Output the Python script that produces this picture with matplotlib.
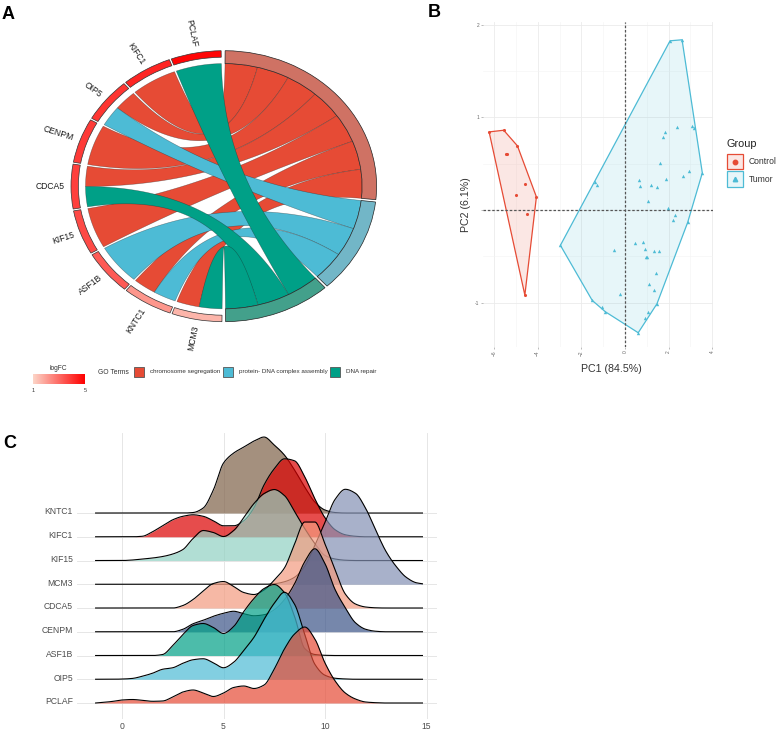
import numpy as np
import matplotlib
matplotlib.use('Agg')
import matplotlib.pyplot as plt
from matplotlib.patches import Wedge, Rectangle, Polygon
from matplotlib.colors import LinearSegmentedColormap, to_rgba

plt.rcParams['font.family'] = ['Liberation Sans', 'DejaVu Sans']

W, H = 778, 730

# ---------------- Panel A data (GO chord) ----------------
genes = ['PCLAF', 'KIFC1', 'OIP5', 'CENPM', 'CDCA5', 'KIF15', 'ASF1B', 'KNTC1', 'MCM3']
gene_logfc = [4.9, 4.3, 4.0, 3.9, 3.8, 3.6, 3.3, 2.2, 1.6]
go_terms = ['chromosome segregation', 'protein- DNA complex assembly', 'DNA repair']
chrom_seg_genes = ['KIFC1', 'OIP5', 'CENPM', 'CDCA5', 'KIF15', 'KNTC1', 'MCM3']
prot_dna_genes = ['OIP5', 'ASF1B', 'KNTC1']
dna_repair_genes = ['PCLAF', 'CDCA5', 'MCM3']
term_gene_lists = [chrom_seg_genes, prot_dna_genes, dna_repair_genes]
term_colors = ['#E64B35', '#4DBBD5', '#00A087']
term_ring_colors = ['#CF7264', '#72B6C7', '#43A08B']

# ---------------- Panel B data (PCA) ----------------
ctrl_pc1 = [-6.23, -5.56, -4.93, -5.47, -5.41, -4.58, -5.01, -4.06, -4.49, -4.59]
ctrl_pc2 = [0.843, 0.861, 0.692, 0.609, 0.602, 0.281, 0.162, 0.141, -0.040, -0.919]
tum_pc1 = [2.07, 2.62, 2.40, 3.06, 3.17, 1.85, 1.73, 1.61, 2.96, 3.55, 2.68, 1.88, 0.66,
           0.69, 1.19, 1.45, -1.39, -1.29, 1.04, 1.98, 2.30, 2.19, 2.88, -2.96, 0.47,
           0.84, -0.52, 0.92, 1.35, 1.56, 0.95, 1.00, 1.44, 1.10, 1.35, -0.21, -1.50,
           -1.06, -0.90, 1.47, 1.06, 0.92, 0.61]
tum_pc2 = [1.827, 1.838, 0.897, 0.905, 0.890, 0.840, 0.789, 0.505, 0.418, 0.400, 0.364,
           0.339, 0.328, 0.259, 0.274, 0.252, 0.306, 0.270, 0.101, 0.025, -0.058, -0.112,
           -0.133, -0.382, -0.360, -0.346, -0.432, -0.425, -0.443, -0.443, -0.508, -0.508,
           -0.677, -0.800, -0.861, -0.904, -0.977, -1.045, -1.099, -1.013, -1.099, -1.168,
           -1.326]

# ---------------- Panel C data (ridgeline density heights) ----------------
ridge_x = [-1.3, -1.0, -0.5, 0.0, 0.5, 1.0, 1.5, 2.0, 2.5, 3.0, 3.5, 4.0, 4.5, 5.0, 5.5,
           6.0, 6.5, 7.0, 7.5, 8.0, 8.5, 9.0, 9.5, 10.0, 10.5, 11.0, 11.5, 12.0, 12.5,
           13.0, 13.5, 14.0, 14.5, 14.8]
ridge_genes = ['PCLAF', 'OIP5', 'ASF1B', 'CENPM', 'CDCA5', 'MCM3', 'KIF15', 'KIFC1', 'KNTC1']
ridge_colors = ['#E64B35', '#4DBBD5', '#00A087', '#3C5488', '#F39B7F', '#8491B4',
                '#91D1C2', '#DC0000', '#7E6148']
d_PCLAF = [0, 0.5, 1.5, 3, 3.5, 2.7, 1.7, 2, 6, 11, 13, 10, 6.5, 10, 15.5, 17, 14.5, 18,
           34, 54, 69, 76, 64, 40, 22, 10, 4, 1, 0.3, 0, 0, 0, 0, 0]
d_OIP5 = [0, 0, 0, 0.2, 0.8, 3, 6, 10, 11.5, 16, 19.5, 20.5, 16.5, 11.5, 17, 29, 42, 60,
          76, 87, 75, 45, 15, 4, 1, 0.3, 0, 0, 0, 0, 0, 0, 0, 0]
d_ASF1B = [0, 0, 0, 0, 0, 0, 0, 1, 10, 21, 30, 32, 28, 22, 29, 44, 57, 67, 71, 63, 39, 7,
           1, 0.2, 0, 0, 0, 0, 0, 0, 0, 0, 0, 0]
d_CENPM = [0, 0, 0, 0, 0, 0, 0, 0, 0, 2.5, 8, 11.5, 15.5, 18.5, 20.5, 18, 16, 17, 22, 32,
           48, 70, 83, 68, 42, 24, 9, 2.5, 0.5, 0, 0, 0, 0, 0]
d_CDCA5 = [0, 0, 0, 0, 0, 0, 0, 0, 0, 2.5, 8.5, 17, 24.5, 26.5, 21.5, 15.5, 13.5, 18, 28,
           40, 64, 86, 86, 64, 38, 14, 4, 1, 0.2, 0, 0, 0, 0, 0]
d_MCM3 = [0, 0, 0, 0, 0, 0, 0, 0, 0, 0, 0, 0, 0, 0, 0, 0, 0, 0, 0.5, 2.5, 7, 18, 39, 62,
          85, 95, 91, 76, 54, 33, 18, 7, 1.5, 0.5]
d_KIF15 = [0, 0, 0, 0, 0.5, 1.5, 2.5, 4, 6.5, 11, 22, 30, 28, 24, 30, 43, 57, 67, 71, 65,
           49, 32, 17, 5, 1.5, 0.3, 0, 0, 0, 0, 0, 0, 0, 0]
d_KIFC1 = [0, 0, 0, 0, 0, 0.5, 5, 11, 17, 20.5, 22, 20.5, 16, 11, 11, 16, 29, 52, 68, 78,
           76, 60, 38, 19, 7, 2, 0.5, 0, 0, 0, 0, 0, 0, 0]
d_KNTC1 = [0, 0, 0, 0, 0, 0, 0, 0, 0, 0, 0.5, 5, 23, 50, 60, 66, 72, 76, 68, 58, 43, 26,
           11, 3, 0.5, 0, 0, 0, 0, 0, 0, 0, 0, 0]
ridge_heights = [d_PCLAF, d_OIP5, d_ASF1B, d_CENPM, d_CDCA5, d_MCM3, d_KIF15, d_KIFC1, d_KNTC1]

# =========================================================
fig = plt.figure(figsize=(W / 100, H / 100), dpi=100)


def fx(px):
    return px / W


def fy(py):
    return 1 - py / H


ov = fig.add_axes([0, 0, 1, 1], zorder=10)
ov.set_xlim(0, W)
ov.set_ylim(H, 0)
ov.axis('off')

# ---------------- Panel A ----------------
cx, cy, rx, ry = 223.8, 186.2, 152.8, 135.5
axA = fig.add_axes([fx(cx - 1.1 * rx), fy(cy + 1.1 * ry), 2.2 * rx / W, 2.2 * ry / H])
axA.set_xlim(-1.1, 1.1)
axA.set_ylim(-1.1, 1.1)
axA.axis('off')

lfc_cmap = LinearSegmentedColormap.from_list('lfc', ['#FCD5C8', '#FF0000'])


def lfc_color(v):
    return lfc_cmap((v - 1) / 4.0)


def pol(r, a):
    t = np.radians(a)
    return np.array([r * np.cos(t), r * np.sin(t)])


def arc(r, a0, a1, n=60):
    t = np.radians(np.linspace(a0, a1, n))
    return np.c_[r * np.cos(t), r * np.sin(t)]


def bez(p0, p2, n=60):
    t = np.linspace(0, 1, n)[:, None]
    c = np.zeros(2)
    return (1 - t) ** 2 * p0 + 2 * (1 - t) * t * c + t ** 2 * p2


g_start, g_pitch, g_width = 91.0, 19.9, 19.1
t_start, t_unit, t_gap = 89.5, 13.6, 1.0
rc = 0.905

gene_seg = {}
for i, g in enumerate(genes):
    g0 = g_start + i * g_pitch
    gene_seg[g] = (g0, g0 + g_width)

term_seg = []
a = t_start
for j, lst in enumerate(term_gene_lists):
    t0 = a
    t1 = a - len(lst) * t_unit
    term_seg.append((t0, t1))
    a = t1 - t_gap

# chords
for j, lst in enumerate(term_gene_lists):
    for m, g in enumerate(lst):
        links = [k for k in range(3) if g in term_gene_lists[k]]
        g0, g1 = gene_seg[g]
        sw = (g1 - g0) / len(links)
        k = links.index(j)
        ga0, ga1 = g0 + k * sw, g0 + (k + 1) * sw
        ta0 = term_seg[j][0] - m * t_unit
        ta1 = ta0 - t_unit
        A = arc(rc, ga0, ga1)
        B = bez(A[-1], pol(rc, ta1))
        C = arc(rc, ta1, ta0)
        D = bez(C[-1], A[0])
        verts = np.vstack([A, B[1:], C[1:], D[1:]])
        axA.add_patch(Polygon(verts, closed=True, facecolor=term_colors[j],
                              edgecolor=(0.1, 0.1, 0.1, 0.45), lw=0.4, zorder=1))

# term ring
for j in range(3):
    t0, t1 = term_seg[j]
    axA.add_patch(Wedge((0, 0), 1.0, t1, t0, width=0.095, facecolor=term_ring_colors[j],
                        edgecolor='#222222', lw=0.5, zorder=3))

# gene ring + labels
for i, g in enumerate(genes):
    g0, g1 = gene_seg[g]
    axA.add_patch(Wedge((0, 0), 1.0, g0, g1, width=0.048, facecolor=lfc_color(gene_logfc[i]),
                        edgecolor='#333333', lw=0.5, zorder=3))
    mid = np.radians((g0 + g1) / 2)
    phi = np.degrees(np.arctan2(ry * np.sin(mid), rx * np.cos(mid)))
    axA.text(1.045 * np.cos(mid), 1.045 * np.sin(mid), g, rotation=phi - 180,
             rotation_mode='anchor', ha='right', va='center', fontsize=6.2,
             color='#1a1a1a', clip_on=False)

# legend A
grad = np.linspace(0, 1, 256)[None, :]
ov.imshow(grad, extent=(33, 85, 384, 374), aspect='auto', cmap=lfc_cmap, zorder=1)
ov.set_xlim(0, W)
ov.set_ylim(H, 0)
ov.text(58, 368, 'logFC', fontsize=4.8, ha='center', va='center', color='#333333')
ov.text(33, 391, '1', fontsize=4, ha='center', va='center', color='#333333')
ov.text(85, 391, '5', fontsize=4, ha='center', va='center', color='#333333')
ov.text(98, 372, 'GO Terms', fontsize=4.9, ha='left', va='center', color='#333333')
sq_x = [134.3, 223.3, 330.3]
lab_x = [150, 239, 346]
for j in range(3):
    ov.add_patch(Rectangle((sq_x[j], 366.7), 10, 10, facecolor=term_colors[j],
                           edgecolor='#555555', lw=0.6))
    ov.text(lab_x[j], 372, go_terms[j], fontsize=4.5, ha='left', va='center', color='#333333')

# ---------------- Panel B ----------------
axB = fig.add_axes([fx(483), fy(347), (713 - 483) / W, (347 - 22) / H])
axB.set_xlim(-6.51, 4.04)
axB.set_ylim(-1.48, 2.03)
for s in axB.spines.values():
    s.set_visible(False)
axB.set_xticks([-6, -4, -2, 0, 2, 4])
axB.set_xticks([-5, -3, -1, 1, 3], minor=True)
axB.set_yticks([-1, 0, 1, 2])
axB.set_yticklabels(['-1', '', '1', '2'])
axB.set_yticks([-0.5, 0.5, 1.5], minor=True)
axB.grid(which='major', color='#EBEBEB', lw=0.6, zorder=0)
axB.grid(which='minor', color='#F3F3F3', lw=0.4, zorder=0)
axB.tick_params(which='major', length=1.5, width=0.4, color='#888888', labelsize=3.5,
                labelcolor='#666666', pad=1)
axB.tick_params(which='minor', length=0)
for lab in axB.get_xticklabels():
    lab.set_rotation(90)
axB.set_axisbelow(True)


def convex_hull(xs, ys):
    pts = sorted(set(zip(xs, ys)))

    def cross(o, a, b):
        return (a[0] - o[0]) * (b[1] - o[1]) - (a[1] - o[1]) * (b[0] - o[0])
    lower, upper = [], []
    for p in pts:
        while len(lower) >= 2 and cross(lower[-2], lower[-1], p) <= 0:
            lower.pop()
        lower.append(p)
    for p in reversed(pts):
        while len(upper) >= 2 and cross(upper[-2], upper[-1], p) <= 0:
            upper.pop()
        upper.append(p)
    return np.array(lower[:-1] + upper[:-1])


c_ctrl, c_tum = '#E64B35', '#4DBBD5'
for xs, ys, c in [(ctrl_pc1, ctrl_pc2, c_ctrl), (tum_pc1, tum_pc2, c_tum)]:
    hv = convex_hull(xs, ys)
    axB.add_patch(Polygon(hv, closed=True, facecolor=to_rgba(c, 0.13), edgecolor=c,
                          lw=0.9, zorder=2))
axB.axvline(0, color='#555555', ls=(0, (2, 1.5)), lw=0.9, zorder=3)
axB.axhline(0, color='#555555', ls=(0, (2, 1.5)), lw=0.9, zorder=3)
axB.scatter(ctrl_pc1, ctrl_pc2, s=5, c=c_ctrl, marker='o', lw=0, zorder=4)
axB.scatter(tum_pc1, tum_pc2, s=6, c=c_tum, marker='^', lw=0, zorder=4)

fig.text(fx(611), fy(369), 'PC1 (84.5%)', fontsize=7.7, ha='center', va='center', color='#333333')
fig.text(fx(466), fy(205), 'PC2 (6.1%)', fontsize=7.7, ha='center', va='center',
         rotation=90, color='#333333')

# legend B
ov.text(727, 144, 'Group', fontsize=7.8, ha='left', va='center', color='#222222')
for k, (lab, c, mk) in enumerate([('Control', c_ctrl, 'o'), ('Tumor', c_tum, '^')]):
    y0 = 154 + k * 17.3
    ov.add_patch(Rectangle((727.3, y0), 15.4, 15.4, facecolor=to_rgba(c, 0.13),
                           edgecolor=c, lw=0.9))
    ov.plot([735], [y0 + 7.7], marker=mk, color=c, ms=3.2, lw=0)
    ov.text(749, y0 + 8, lab, fontsize=6.2, ha='left', va='center', color='#333333')

# ---------------- Panel C ----------------


def smooth_curve(x, y, n=600):
    """Monotone cubic (PCHIP-style) drawing through the read points."""
    x = np.asarray(x, float)
    y = np.asarray(y, float)
    hh = np.diff(x)
    dl = np.diff(y) / hh
    d = np.zeros_like(y)
    for k in range(1, len(y) - 1):
        if dl[k - 1] * dl[k] > 0:
            w1 = 2 * hh[k] + hh[k - 1]
            w2 = hh[k] + 2 * hh[k - 1]
            d[k] = (w1 + w2) / (w1 / dl[k - 1] + w2 / dl[k])
    d[0], d[-1] = dl[0], dl[-1]
    xn = np.linspace(x[0], x[-1], n)
    idx = np.clip(np.searchsorted(x, xn) - 1, 0, len(x) - 2)
    t = (xn - x[idx]) / hh[idx]
    h00 = 2 * t ** 3 - 3 * t ** 2 + 1
    h10 = t ** 3 - 2 * t ** 2 + t
    h01 = -2 * t ** 3 + 3 * t ** 2
    h11 = t ** 3 - t ** 2
    yn = h00 * y[idx] + h10 * hh[idx] * d[idx] + h01 * y[idx + 1] + h11 * hh[idx] * d[idx + 1]
    return xn, np.maximum(yn, 0)


axC = fig.add_axes([fx(77), fy(719), (437 - 77) / W, (719 - 433) / H])
axC.set_xlim(-2.217, 15.517)
axC.set_ylim(-0.674, 11.37)
for s in axC.spines.values():
    s.set_visible(False)
row_px = 23.75
for xv in [0, 5, 10, 15]:
    axC.axvline(xv, color='#E6E6E6', lw=0.7, zorder=0)
for i in range(len(ridge_genes)):
    axC.axhline(i, color='#E6E6E6', lw=0.7, zorder=0)
for i in range(len(ridge_genes) - 1, -1, -1):
    xs, hs = smooth_curve(ridge_x, ridge_heights[i])
    h = hs / row_px
    z = 2 + (len(ridge_genes) - i)
    axC.fill_between(xs, i, i + h, color=ridge_colors[i], alpha=0.7, lw=0, zorder=z)
    axC.plot(xs, i + h, color='black', lw=0.8, zorder=z + 0.5)
axC.set_yticks(np.arange(len(ridge_genes)) + 0.09)
axC.set_yticklabels(ridge_genes)
axC.set_xticks([0, 5, 10, 15])
axC.tick_params(axis='both', length=0, labelsize=6.2, labelcolor='#4D4D4D')
axC.tick_params(axis='y', pad=3)
axC.tick_params(axis='x', pad=2.5)

# panel letters
fig.text(fx(2), fy(6), 'A', fontsize=13, fontweight='bold', ha='left', va='top')
fig.text(fx(428), fy(4), 'B', fontsize=13, fontweight='bold', ha='left', va='top')
fig.text(fx(3), fy(435), 'C', fontsize=13, fontweight='bold', ha='left', va='top')

fig.savefig('out.png', dpi=100)
